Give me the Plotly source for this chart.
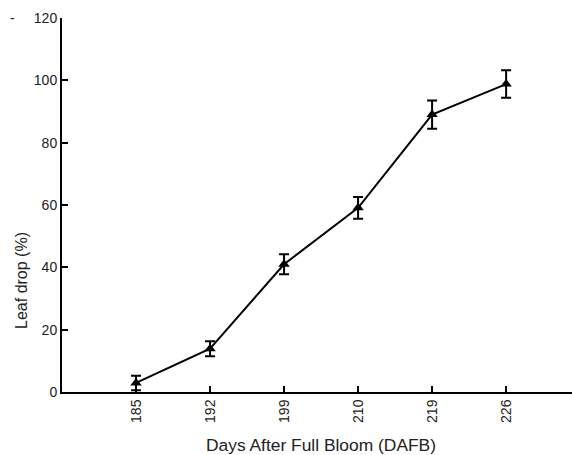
import plotly.graph_objects as go

days = ["185", "192", "199", "210", "219", "226"]
leaf_drop = [2.9, 13.9, 41.0, 59.1, 89.0, 98.8]
errors = [2.3, 2.4, 3.2, 3.5, 4.5, 4.4]
y_ticks = [0, 20, 40, 60, 80, 100, 120]

fig = go.Figure()
fig.add_trace(go.Scatter(
    x=list(range(len(days))), y=leaf_drop,
    mode="lines+markers",
    line=dict(color="black", width=2),
    marker=dict(symbol="triangle-up", size=10, color="black"),
    error_y=dict(type="data", array=errors, visible=True, color="black", thickness=2, width=5),
    showlegend=False,
))

font = "Liberation Sans, Arial, sans-serif"
fig.update_layout(
    width=572, height=455,
    margin=dict(l=62, r=0, t=18, b=63),
    plot_bgcolor="white", paper_bgcolor="white",
    font=dict(family=font, color="#222", size=14),
    xaxis=dict(
        range=[-1, 5.89], tickmode="array", tickvals=list(range(len(days))), ticktext=days,
        tickangle=-90, ticks="inside", ticklen=6, tickwidth=2, tickcolor="black",
        showline=True, linecolor="black", linewidth=2, showgrid=False, zeroline=False,
        tickfont=dict(size=14),
    ),
    yaxis=dict(
        range=[0, 120], tickvals=y_ticks, ticks="inside", ticklen=6, tickwidth=2, tickcolor="black",
        showline=True, linecolor="black", linewidth=2, showgrid=False, zeroline=False,
        tickfont=dict(size=14),
    ),
    annotations=[
        dict(text="-", xref="paper", yref="paper", x=-0.098, y=1.0,
             xanchor="center", yanchor="middle", showarrow=False,
             font=dict(size=14, color="#222")),
        dict(text="Days After Full Bloom (DAFB)", xref="paper", yref="paper", x=0.508, y=-0.142,
             xanchor="center", yanchor="middle", showarrow=False,
             font=dict(size=17.4, color="#222")),
        dict(text="Leaf drop (%)", xref="paper", yref="paper", x=-0.0784, y=0.297,
             xanchor="center", yanchor="middle", showarrow=False, textangle=-90,
             font=dict(size=16, color="#222")),
    ],
)

fig.write_html("out.html", config={"displayModeBar": False},
               post_script="document.body.style.margin='0';document.body.style.overflow='hidden';")
